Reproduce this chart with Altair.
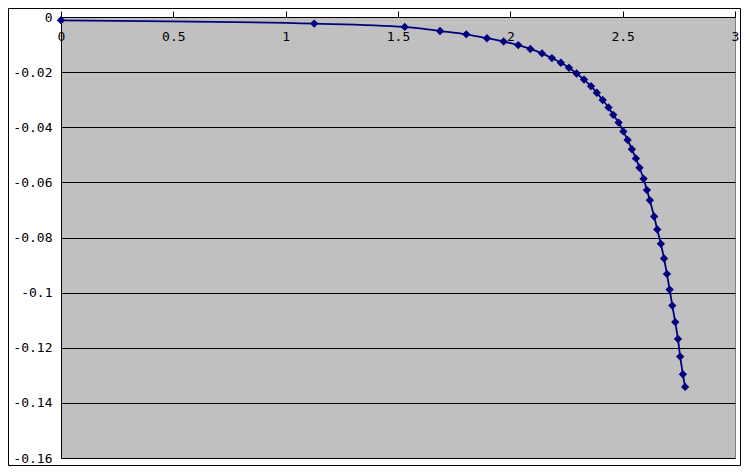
import altair as alt
import pandas as pd

# values
x_vals = [0, 1.127, 1.530, 1.687, 1.804, 1.896, 1.970, 2.035, 2.089, 2.141,
          2.185, 2.225, 2.261, 2.295, 2.328, 2.359, 2.385, 2.411, 2.437, 2.458,
          2.482, 2.503, 2.522, 2.541, 2.559, 2.575, 2.593, 2.608, 2.621, 2.640,
          2.654, 2.670, 2.684, 2.697, 2.709, 2.721, 2.734, 2.746, 2.756, 2.768,
          2.778]
y_vals = [-0.0012, -0.0024, -0.0036, -0.0051, -0.0063, -0.0077, -0.0089, -0.0102, -0.0116, -0.0132,
          -0.0149, -0.0166, -0.0184, -0.0205, -0.0227, -0.0251, -0.0275, -0.0301, -0.0328, -0.0355,
          -0.0383, -0.0415, -0.0446, -0.0480, -0.0513, -0.0547, -0.0587, -0.0628, -0.0665, -0.0724,
          -0.0771, -0.0823, -0.0876, -0.0932, -0.0989, -0.1047, -0.1107, -0.1168, -0.1232, -0.1296,
          -0.1342]
x_ticks = [0, 0.5, 1, 1.5, 2, 2.5, 3]
y_ticks = [0, -0.02, -0.04, -0.06, -0.08, -0.1, -0.12, -0.14, -0.16]

df = pd.DataFrame({"x": x_vals, "y": y_vals})

FONT = "DejaVu Sans Mono"
NAVY = "#000080"

x_enc = alt.X(
    "x:Q",
    scale=alt.Scale(domain=[0, 3], nice=False, zero=False),
    axis=alt.Axis(
        orient="top", values=x_ticks, title=None, grid=False, format="~g",
        domainColor="black", tickColor="black", tickSize=6,
        labelBaseline="top", labelPadding=-19, labelFlush=False,
        labelOverlap=False, labelColor="black", labelFont=FONT, labelFontSize=13,
    ),
)
y_enc = alt.Y(
    "y:Q",
    scale=alt.Scale(domain=[-0.16, 0], nice=False, zero=False),
    axis=alt.Axis(
        values=y_ticks, title=None, grid=True, gridColor="black", gridWidth=1,
        gridOpacity=1, domainColor="black", ticks=False, labelPadding=9,
        labelColor="black", labelFont=FONT, labelFontSize=13, labelFlush=False,
        labelOverlap=False,
        labelExpr="replace(format(datum.value, '.2~f'), '\u2212', '-')",
    ),
)

border = alt.Chart(pd.DataFrame({"k": [0]})).mark_rect(
    fillOpacity=0, stroke="black", strokeWidth=1
).encode(
    x=alt.value(-52.5), x2=alt.value(679.5), y=alt.value(-8.5), y2=alt.value(448.5)
)

base = alt.Chart(df).encode(x=x_enc, y=y_enc)
line = base.mark_line(color=NAVY, strokeWidth=1.8, interpolate="monotone")
pts = base.mark_point(shape="diamond", filled=True, color=NAVY, size=70, opacity=1)

chart = alt.layer(border, line, pts).properties(
    width=674, height=441,
    autosize=alt.AutoSizeParams(type="none"),
    padding={"left": 53, "top": 9, "right": 6, "bottom": 8},
    background="white",
).configure_view(
    fill="#C0C0C0", stroke="#808080", strokeWidth=1
)

chart.save("out.html", embed_options={"renderer": "svg", "actions": False})
